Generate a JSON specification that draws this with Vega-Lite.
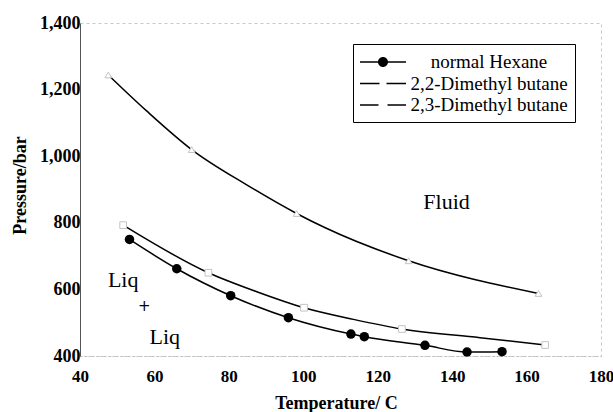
{
  "$schema": "https://vega.github.io/schema/vega-lite/v6.json",
  "width": 521,
  "height": 333,
  "autosize": {"type": "none"},
  "padding": {"left": 80, "top": 23, "right": 12, "bottom": 56},
  "background": "white",
  "config": {
    "view": {"stroke": "#c8c8c8", "strokeDash": [3, 3]},
    "font": "Liberation Serif"
  },
  "datasets": {
    "curves": [
      {"series": "normal Hexane", "T": 53.3, "P": 750},
      {"series": "normal Hexane", "T": 66.0, "P": 662},
      {"series": "normal Hexane", "T": 80.5, "P": 581},
      {"series": "normal Hexane", "T": 96.0, "P": 515},
      {"series": "normal Hexane", "T": 112.8, "P": 466},
      {"series": "normal Hexane", "T": 116.4, "P": 458},
      {"series": "normal Hexane", "T": 132.7, "P": 432},
      {"series": "normal Hexane", "T": 144.0, "P": 412},
      {"series": "normal Hexane", "T": 153.4, "P": 413},
      {"series": "2,2-Dimethyl butane", "T": 47.6, "P": 1244},
      {"series": "2,2-Dimethyl butane", "T": 57.9, "P": 1136},
      {"series": "2,2-Dimethyl butane", "T": 70.0, "P": 1020},
      {"series": "2,2-Dimethyl butane", "T": 84.8, "P": 914},
      {"series": "2,2-Dimethyl butane", "T": 98.2, "P": 828},
      {"series": "2,2-Dimethyl butane", "T": 105.9, "P": 785},
      {"series": "2,2-Dimethyl butane", "T": 128.3, "P": 686},
      {"series": "2,2-Dimethyl butane", "T": 163.2, "P": 588},
      {"series": "2,3-Dimethyl butane", "T": 51.6, "P": 793},
      {"series": "2,3-Dimethyl butane", "T": 74.5, "P": 650},
      {"series": "2,3-Dimethyl butane", "T": 87.5, "P": 593},
      {"series": "2,3-Dimethyl butane", "T": 100.2, "P": 545},
      {"series": "2,3-Dimethyl butane", "T": 113.5, "P": 510},
      {"series": "2,3-Dimethyl butane", "T": 126.5, "P": 481},
      {"series": "2,3-Dimethyl butane", "T": 147.5, "P": 455},
      {"series": "2,3-Dimethyl butane", "T": 165.0, "P": 433}
    ],
    "markers": [
      {"series": "normal Hexane", "T": 53.3, "P": 750},
      {"series": "normal Hexane", "T": 66.0, "P": 662},
      {"series": "normal Hexane", "T": 80.5, "P": 581},
      {"series": "normal Hexane", "T": 96.0, "P": 515},
      {"series": "normal Hexane", "T": 112.8, "P": 466},
      {"series": "normal Hexane", "T": 116.4, "P": 458},
      {"series": "normal Hexane", "T": 132.7, "P": 432},
      {"series": "normal Hexane", "T": 144.0, "P": 412},
      {"series": "normal Hexane", "T": 153.4, "P": 413},
      {"series": "2,2-Dimethyl butane", "T": 47.6, "P": 1244},
      {"series": "2,2-Dimethyl butane", "T": 70.0, "P": 1020},
      {"series": "2,2-Dimethyl butane", "T": 98.2, "P": 828},
      {"series": "2,2-Dimethyl butane", "T": 128.3, "P": 686},
      {"series": "2,2-Dimethyl butane", "T": 163.2, "P": 588},
      {"series": "2,3-Dimethyl butane", "T": 51.6, "P": 793},
      {"series": "2,3-Dimethyl butane", "T": 74.5, "P": 650},
      {"series": "2,3-Dimethyl butane", "T": 100.2, "P": 545},
      {"series": "2,3-Dimethyl butane", "T": 126.5, "P": 481},
      {"series": "2,3-Dimethyl butane", "T": 165.0, "P": 433}
    ],
    "notes": [
      {"T": 138.5, "P": 862, "label": "Fluid"},
      {"T": 51.6, "P": 628, "label": "Liq"},
      {"T": 62.8, "P": 457, "label": "Liq"}
    ],
    "cross": [
      {"T": 57.3, "P": 550, "label": "+"}
    ]
  },
  "encoding": {
    "x": {
      "field": "T",
      "type": "quantitative",
      "scale": {"domain": [40, 180], "nice": false, "zero": false},
      "axis": {
        "title": "Temperature/ C",
        "values": [40, 60, 80, 100, 120, 140, 160, 180],
        "grid": false,
        "ticks": false,
        "labelFlush": false,
        "labelOverlap": false,
        "labelFont": "Liberation Serif",
        "labelFontWeight": "bold",
        "labelFontSize": 17,
        "labelColor": "black",
        "labelPadding": 12,
        "domainColor": "#bbbbbb",
        "domainDash": [2, 2],
        "titleFont": "Liberation Serif",
        "titleFontWeight": "bold",
        "titleFontSize": 18,
        "titleColor": "black",
        "titleX": 256,
        "titleY": 47,
        "titleBaseline": "middle"
      }
    },
    "y": {
      "field": "P",
      "type": "quantitative",
      "scale": {"domain": [400, 1400], "nice": false, "zero": false},
      "axis": {
        "title": "Pressure/bar",
        "values": [400, 600, 800, 1000, 1200, 1400],
        "format": ",d",
        "grid": false,
        "ticks": false,
        "labelFlush": false,
        "labelOverlap": false,
        "labelFont": "Liberation Serif",
        "labelFontWeight": "bold",
        "labelFontSize": 18,
        "labelColor": "black",
        "labelPadding": 0,
        "domainColor": "#555555",
        "titleFont": "Liberation Serif",
        "titleFontWeight": "bold",
        "titleFontSize": 18,
        "titleColor": "black",
        "titleX": -60,
        "titleY": 162,
        "titleAlign": "center",
        "titleBaseline": "middle"
      }
    }
  },
  "layer": [
    {
      "data": {"name": "curves"},
      "mark": {"type": "line", "interpolate": "monotone", "color": "black", "strokeWidth": 1.5},
      "encoding": {"detail": {"field": "series", "type": "nominal"}}
    },
    {
      "data": {"name": "markers"},
      "transform": [{"filter": "datum.series == '2,2-Dimethyl butane'"}],
      "mark": {"type": "point", "shape": "triangle-up", "fill": "white", "stroke": "#c4c4c4", "strokeWidth": 1, "size": 45, "opacity": 1}
    },
    {
      "data": {"name": "markers"},
      "transform": [{"filter": "datum.series == '2,3-Dimethyl butane'"}],
      "mark": {"type": "point", "shape": "square", "fill": "white", "stroke": "#c4c4c4", "strokeWidth": 1, "size": 45, "opacity": 1}
    },
    {
      "data": {"name": "markers"},
      "transform": [{"filter": "datum.series == 'normal Hexane'"}],
      "mark": {"type": "point", "filled": true, "color": "black", "size": 90, "opacity": 1}
    },
    {
      "data": {"name": "markers"},
      "mark": {"type": "point", "filled": true, "color": "black", "opacity": 0},
      "encoding": {
        "shape": {
          "field": "series",
          "type": "nominal",
          "sort": ["normal Hexane", "2,2-Dimethyl butane", "2,3-Dimethyl butane"],
          "scale": {
            "domain": ["normal Hexane", "2,2-Dimethyl butane", "2,3-Dimethyl butane"],
            "range": [
              "M-2.3,-0.07L2.3,-0.07L2.3,0.07L-2.3,0.07ZM-0.5,0A0.5,0.5,0,1,1,0.5,0A0.5,0.5,0,1,1,-0.5,0Z",
              "M-2.3,-0.07L-0.35,-0.07L-0.35,0.07L-2.3,0.07ZM0.35,-0.07L2.3,-0.07L2.3,0.07L0.35,0.07Z",
              "M-2.3,-0.07L-0.45,-0.07L-0.45,0.07L-2.3,0.07ZM0.45,-0.07L2.3,-0.07L2.3,0.07L0.45,0.07Z"
            ]
          },
          "legend": {
            "title": null,
            "orient": "none",
            "legendX": 273,
            "legendY": 21,
            "symbolSize": 400,
            "symbolOffset": 12,
            "symbolFillColor": "black",
            "symbolStrokeColor": "black",
            "labelFont": "Liberation Serif",
            "labelFontSize": 19,
            "labelColor": "black",
            "labelAlign": "center",
            "labelOffset": 95,
            "labelLimit": 300,
            "padding": 7,
            "rowPadding": 0.5,
            "strokeColor": "black",
            "fillColor": "white",
            "encode": {
              "symbols": {"update": {"opacity": {"value": 1}, "fill": {"value": "black"}, "fillOpacity": {"value": 1}, "size": {"value": 400}}},
              "legend": {"update": {"strokeWidth": {"value": 1.5}}}
            }
          }
        }
      }
    },
    {
      "data": {"name": "notes"},
      "mark": {"type": "text", "font": "Liberation Serif", "fontSize": 22, "color": "black"},
      "encoding": {"text": {"field": "label", "type": "nominal"}}
    },
    {
      "data": {"name": "cross"},
      "mark": {"type": "text", "font": "DejaVu Sans", "fontSize": 15, "color": "black"},
      "encoding": {"text": {"field": "label", "type": "nominal"}}
    }
  ]
}
